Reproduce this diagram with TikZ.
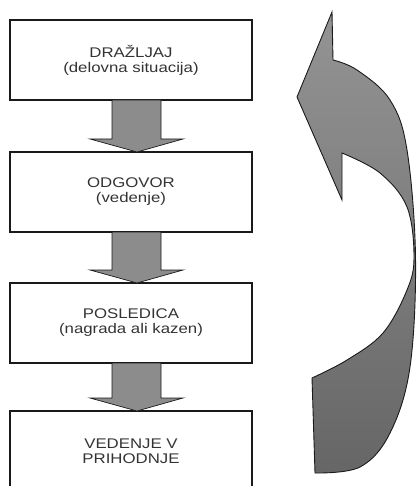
\documentclass[tikz,border=0pt]{standalone}
\usepackage{fontspec}
\setmainfont{Liberation Sans}[FakeStretch=1.2]
\usetikzlibrary{calc}
\definecolor{okvir}{HTML}{1A1A1A}
\definecolor{besedilo}{HTML}{333333}
\definecolor{polnilo}{HTML}{8C8C8C}

% block arrow from the bottom of one box to the top of the next
\newcommand{\blokpuscica}[2]{%
  \filldraw[blok] ($(#1.south)+(-19,0)$) -- ($(#1.south)+(30,0)$)
    -- ($(#2.north)+(30,-13)$) -- ($(#2.north)+(52,-13)$)
    -- ($(#2.north)+(6,0)$)
    -- ($(#2.north)+(-41,-13)$) -- ($(#2.north)+(-19,-13)$) -- cycle;}

\begin{document}
\begin{tikzpicture}[
  x=1pt,y=-1pt,
  font=\fontsize{14}{15}\selectfont,
  korak/.style={draw=okvir,line width=1.2pt,minimum width=242pt,minimum height=80pt,
                inner sep=0pt,outer sep=0pt,align=center,text=besedilo},
  blok/.style={fill=polnilo,draw=okvir,line width=0.7pt,line join=miter},
  lok/.style={draw=okvir,line width=0.9pt,top color=black!42,bottom color=black!60}
]
\clip (0,0) rectangle (417,486);

\node[korak] (situacija) at (131,60) {DRAŽLJAJ\\(delovna situacija)};
\node[korak] (odgovor) at (131,192) {ODGOVOR\\(vedenje)};
\node[korak] (posledica) at (131,323) {POSLEDICA\\(nagrada ali kazen)};
\node[korak] (prihodnje) at (131,451) {VEDENJE V\\PRIHODNJE};

\blokpuscica{situacija}{odgovor}
\blokpuscica{odgovor}{posledica}
\blokpuscica{posledica}{prihodnje}

% curved return arrow on the right
\path[lok] (332,12) -- (333,60)
  -- plot[smooth,tension=0.6] coordinates {(333,60) (357,70) (390,100) (407,150) (415.5,257)
       (410,367) (390,433) (360,467) (315,473)}
  -- (312,378)
  -- plot[smooth,tension=0.6] coordinates {(312,378) (347,360) (383,333) (407,290) (414,257)
       (407,207) (380,173) (342,153)}
  -- (342,200) -- (297,97) -- cycle;
\end{tikzpicture}
\end{document}
